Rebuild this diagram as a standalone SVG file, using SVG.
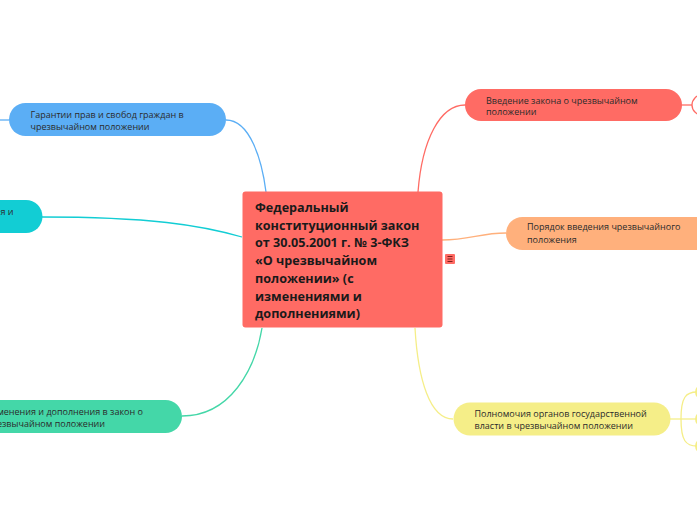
<svg xmlns="http://www.w3.org/2000/svg" width="697" height="520" viewBox="0 0 697 520">
<style>
.t{font-family:"Open Sans","Noto Sans","Liberation Sans",sans-serif;font-size:9px;fill:#2b2b2b}
.c{font-family:"Open Sans","Noto Sans","Liberation Sans",sans-serif;font-size:12.6px;font-weight:bold;fill:#1a1a1a}
.ln{fill:none;stroke-width:1.3}
</style>
<rect width="697" height="520" fill="#ffffff"/>
<g id="connectors">
<path class="ln" stroke="#5BAEF5" d="M0,120 L9,120"/>
<path class="ln" stroke="#5BAEF5" d="M226,120 C250,120 262,160 266,192"/>
<path class="ln" stroke="#12CDD4" d="M42,217 C150,217 200,225 242,237"/>
<path class="ln" stroke="#44D7A8" d="M182,416 C230,416 255,370 262,328"/>
<path class="ln" stroke="#FF6B64" d="M418,192 C422,140 440,105 465,105"/>
<path class="ln" stroke="#FF6B64" d="M681,105 L692,105"/>
<path class="ln" stroke="#FFB07C" d="M442,240 C470,240 480,233 506,233"/>
<path class="ln" stroke="#F5EE88" d="M415,328 C418,380 430,419 453,419"/>
<path class="ln" stroke="#F5EE88" d="M670,419 L697,419"/>
<path class="ln" stroke="#F5EE88" d="M681,419 C681,397 686,392 697,392"/>
<path class="ln" stroke="#F5EE88" d="M681,419 C681,441 686,446 697,446"/>
</g>
<g id="node-central">
<rect x="242.5" y="191.5" width="200" height="136" rx="3" fill="#FF6B64"/>
<text class="c" x="255" y="212">Федеральный</text>
<text class="c" x="255" y="229.7">конституционный закон</text>
<text class="c" x="255" y="247.4">от 30.05.2001 г. № 3-ФКЗ</text>
<text class="c" x="255" y="265.1">«О чрезвычайном</text>
<text class="c" x="255" y="282.8">положении» (с</text>
<text class="c" x="255" y="300.5">изменениями и</text>
<text class="c" x="255" y="318.2">дополнениями)</text>
<rect x="445" y="254" width="10" height="10" rx="1" fill="#FF6B64"/>
<path d="M447.5,256.5h5M447.5,259h5M447.5,261.5h5" stroke="#7a1f1a" stroke-width="1"/>
</g>
<g id="node-guarantees">
<rect x="9" y="103" width="217" height="33" rx="16.5" fill="#5BAEF5"/>
<text class="t" x="30.5" y="118">Гарантии прав и свобод граждан в</text>
<text class="t" x="30.5" y="130">чрезвычайном положении</text>
</g>
<g id="node-teal">
<rect x="-180" y="200" width="222.5" height="33" rx="16.5" fill="#12CDD4"/>
<text class="t" x="0.5" y="215">я и</text>
</g>
<g id="node-amendments">
<rect x="-35" y="400" width="217" height="33" rx="16.5" fill="#44D7A8"/>
<text class="t" x="-14" y="414.5">Изменения и дополнения в закон о</text>
<text class="t" x="-14" y="426.5">чрезвычайном положении</text>
</g>
<g id="node-introduction">
<rect x="465" y="89" width="217" height="32" rx="16" fill="#FF6B64"/>
<text class="t" x="486" y="103.5">Введение закона о чрезвычайном</text>
<text class="t" x="486" y="115">положении</text>
<circle cx="702" cy="105" r="10" fill="#ffffff" stroke="#FF6B64" stroke-width="1.3"/>
</g>
<g id="node-procedure">
<rect x="506" y="217" width="217" height="33" rx="16.5" fill="#FFB07C"/>
<text class="t" x="527" y="230">Порядок введения чрезвычайного</text>
<text class="t" x="527" y="242.5">положения</text>
</g>
<g id="node-powers">
<rect x="453.5" y="402.5" width="217" height="33" rx="16.5" fill="#F5EE88"/>
<text class="t" x="474.5" y="416.5">Полномочия органов государственной</text>
<text class="t" x="474.5" y="428.5">власти в чрезвычайном положении</text>
</g>
<g id="node-powers-children">
<rect x="695" y="384" width="100" height="16" rx="8" fill="#F5EE88"/>
<rect x="695" y="411" width="100" height="16" rx="8" fill="#F5EE88"/>
<rect x="695" y="438" width="100" height="16" rx="8" fill="#F5EE88"/>
</g>
</svg>
